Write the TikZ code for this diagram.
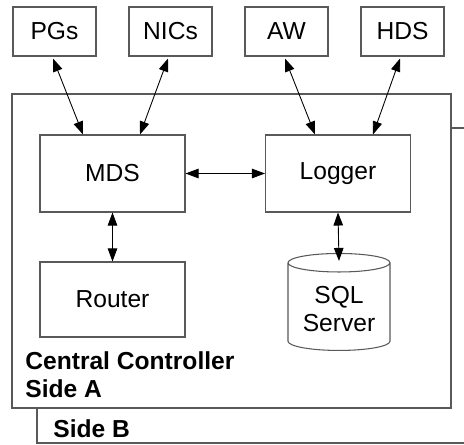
\documentclass[tikz,border=0pt]{standalone}
\usepackage{fontspec}
\setmainfont{Liberation Sans}
\usetikzlibrary{arrows.meta,shapes.geometric}

\tikzset{
    unit/.style={draw=black!65, line width=0.6pt, align=center,
        font=\fontsize{14}{16}\selectfont},
    link/.style={{Triangle[length=2.6mm,width=1.9mm]}-{Triangle[length=2.6mm,width=1.9mm]},
        line width=0.5pt},
    side/.style={draw=black!65, line width=0.6pt, fill=white},
    sidename/.style={anchor=base west, inner sep=0pt,
        font=\fontsize{14}{16}\selectfont\bfseries}
}

\begin{document}
\begin{tikzpicture}[x=0.02cm, y=-0.02cm, line cap = round]

        \useasboundingbox (0,0) rectangle (464,444);

        % The two sides of the central controller.
        \draw[side] (37,128) rectangle (480,443);
        \draw[side] (12,94) rectangle (451,408);

        % Outside peripherals.
        \node[unit, minimum width=1.66cm, minimum height=0.98cm] (pgs) at (54.5,31.5) {PGs};
        \node[unit, minimum width=1.66cm, minimum height=0.98cm] (nics) at (170.5,31.5) {NICs};
        \node[unit, minimum width=1.66cm, minimum height=0.98cm] (aw) at (286.5,31.5) {AW};
        \node[unit, minimum width=1.66cm, minimum height=0.98cm] (hds) at (402.5,31.5) {HDS};

        % Processes inside side A.
        \node[unit, minimum width=2.9cm, minimum height=1.54cm] (mds) at (112.5,173.5) {MDS};
        \node[unit, minimum width=2.9cm, minimum height=1.54cm] (logger) at (338,173.5) {Logger};
        \node[unit, minimum width=2.9cm, minimum height=1.5cm] (router) at (112.5,299.5) {Router};
        \node[unit, cylinder, shape border rotate=90, aspect=0.22,
            minimum width=2.04cm, minimum height=1.94cm] (sql) at (339,309) {SQL\\Server};

        % Labels of the sides.
        \node[sidename] (ccname) at (25,369) {Central Controller};
        \node[sidename] (sidea) at (25,397) {Side A};
        \node[sidename] (sideb) at (53,437) {Side B};

        % Links between the peripherals and the processes.
        \draw[link] ([shift={(-1.5,2)}]pgs.south) -- ([shift={(-29.5,0)}]mds.north);
        \draw[link] ([shift={(-2.5,2)}]nics.south) -- ([shift={(27.5,0)}]mds.north);
        \draw[link] ([shift={(-1.5,2)}]aw.south) -- ([shift={(-23,0)}]logger.north);
        \draw[link] ([shift={(-2.5,2)}]hds.south) -- ([shift={(35,0)}]logger.north);
        \draw[link] (mds) -- (logger);
        \draw[link] (mds) -- (router);
        \draw[link] (logger.south) -- ([shift={(0,8)}]sql.north);
    \end{tikzpicture}
\end{document}
